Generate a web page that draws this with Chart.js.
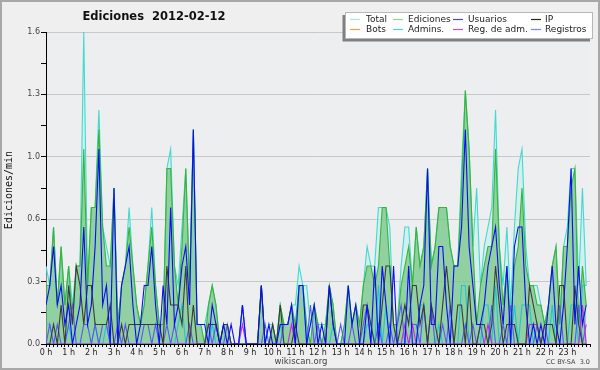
<!DOCTYPE html>
<html>
<head>
<meta charset="utf-8">
<script src="https://cdn.jsdelivr.net/npm/chart.js@4/dist/chart.umd.min.js"></script>
<style>
  html, body { margin: 0; padding: 0; background: #efefef; }
</style>
</head>
<body>
<canvas id="grafico" width="600" height="370"></canvas>
<script>
// Etiquetas del eje X (una por hora, datos cada 10 minutos)
const horas = ['0 h','1 h','2 h','3 h','4 h','5 h','6 h','7 h','8 h','9 h','10 h','11 h',
               '12 h','13 h','14 h','15 h','16 h','17 h','18 h','19 h','20 h','21 h','22 h','23 h'];

// Eje Y: marcas cada 0.16, etiqueta solo en las principales
const yValores = [0, 0.16, 0.32, 0.48, 0.64, 0.8, 0.96, 1.12, 1.28, 1.44, 1.6];
const yEtiquetas = ['0.0', '', '0.3', '', '0.6', '', '1.0', '', '1.3', '', '1.6'];

const nombres = ['Total', 'Ediciones', 'Usuarios', 'IP', 'Bots', 'Admins.', 'Reg. de adm.', 'Registros'];

// Ediciones/min por tramo de 10 minutos (6 valores por hora)
const total = [
  0.4,0.3,0.6,0.2,0.5,0.2,  0.4,0.2,0.4,0.4,1.6,0.3,  0.7,0.7,1.2,0.6,0.5,0.4,  0.8,0.1,0.3,0.4,0.7,0.4,
  0.2,0.1,0.2,0.4,0.7,0.3,  0.1,0.1,0.9,1.0,0.4,0.3,  0.6,0.9,0.3,1.1,0.1,0.1,  0.1,0.2,0.3,0.2,0.0,0.1,
  0.1,0.0,0.0,0.0,0.2,0.0,  0.0,0.0,0.0,0.3,0.0,0.1,  0.1,0.0,0.2,0.1,0.1,0.2,  0.2,0.4,0.3,0.3,0.1,0.2,
  0.1,0.1,0.1,0.3,0.2,0.0,  0.0,0.1,0.3,0.1,0.2,0.1,  0.3,0.5,0.4,0.4,0.7,0.7,  0.7,0.6,0.1,0.1,0.4,0.6,
  0.6,0.3,0.6,0.4,0.5,0.9,  0.4,0.5,0.7,0.7,0.7,0.5,  0.4,0.4,0.9,1.3,1.0,0.5,  0.8,0.3,0.5,0.6,0.7,1.2,
  0.5,0.3,0.6,0.2,0.6,0.9,  1.0,0.5,0.3,0.3,0.3,0.2,  0.1,0.2,0.4,0.5,0.1,0.5,  0.6,0.9,0.9,0.3,0.8,0.3
];
const ediciones = [
  0.3,0.3,0.6,0.2,0.5,0.2,  0.4,0.1,0.4,0.4,1.0,0.3,  0.7,0.7,1.1,0.6,0.4,0.4,  0.8,0.1,0.3,0.4,0.6,0.4,
  0.2,0.1,0.2,0.4,0.6,0.3,  0.1,0.1,0.9,0.9,0.4,0.2,  0.5,0.9,0.3,1.1,0.1,0.1,  0.0,0.2,0.3,0.2,0.0,0.1,
  0.1,0.0,0.0,0.0,0.0,0.0,  0.0,0.0,0.0,0.3,0.0,0.0,  0.1,0.0,0.2,0.1,0.1,0.2,  0.1,0.3,0.3,0.1,0.0,0.2,
  0.1,0.0,0.1,0.3,0.2,0.0,  0.0,0.1,0.3,0.1,0.2,0.1,  0.3,0.4,0.4,0.3,0.4,0.7,  0.7,0.4,0.1,0.1,0.3,0.4,
  0.5,0.3,0.6,0.4,0.5,0.9,  0.4,0.5,0.7,0.7,0.7,0.5,  0.4,0.4,0.8,1.3,1.0,0.5,  0.1,0.3,0.4,0.5,0.5,1.0,
  0.5,0.2,0.4,0.1,0.4,0.5,  0.8,0.4,0.3,0.3,0.2,0.2,  0.1,0.2,0.4,0.5,0.1,0.5,  0.5,0.8,0.9,0.1,0.4,0.2
];
const usuarios = [
  0.2,0.3,0.5,0.2,0.3,0.1,  0.2,0.0,0.1,0.2,0.6,0.1,  0.2,0.5,1.0,0.2,0.3,0.0,  0.8,0.0,0.3,0.4,0.5,0.2,
  0.0,0.1,0.3,0.3,0.5,0.2,  0.0,0.3,0.1,0.7,0.1,0.2,  0.4,0.5,0.2,1.1,0.1,0.1,  0.1,0.0,0.2,0.1,0.0,0.1,
  0.0,0.1,0.0,0.0,0.2,0.0,  0.0,0.0,0.0,0.3,0.0,0.1,  0.0,0.0,0.1,0.1,0.1,0.2,  0.0,0.3,0.3,0.0,0.1,0.2,
  0.0,0.1,0.0,0.3,0.1,0.0,  0.0,0.0,0.3,0.1,0.2,0.0,  0.0,0.2,0.0,0.4,0.0,0.4,  0.2,0.0,0.4,0.0,0.0,0.0,
  0.4,0.0,0.0,0.2,0.3,0.9,  0.1,0.1,0.5,0.5,0.2,0.0,  0.4,0.4,0.6,1.1,0.5,0.3,  0.1,0.1,0.2,0.4,0.5,0.6,
  0.3,0.1,0.4,0.0,0.5,0.6,  0.6,0.2,0.0,0.1,0.0,0.1,  0.0,0.2,0.4,0.1,0.0,0.2,  0.5,0.9,0.1,0.4,0.1,0.2
];
const ip = [
  0.0,0.0,0.1,0.0,0.2,0.0,  0.3,0.1,0.4,0.3,0.1,0.3,  0.3,0.1,0.1,0.1,0.1,0.2,  0.0,0.0,0.1,0.0,0.1,0.1,
  0.1,0.1,0.1,0.1,0.1,0.1,  0.1,0.0,0.4,0.2,0.2,0.2,  0.1,0.4,0.0,0.2,0.0,0.0,  0.0,0.1,0.1,0.1,0.0,0.1,
  0.1,0.0,0.0,0.0,0.0,0.0,  0.0,0.0,0.0,0.3,0.0,0.0,  0.1,0.0,0.2,0.0,0.0,0.0,  0.1,0.0,0.0,0.0,0.0,0.0,
  0.0,0.0,0.0,0.3,0.1,0.0,  0.0,0.0,0.0,0.0,0.0,0.0,  0.2,0.2,0.1,0.0,0.0,0.2,  0.4,0.4,0.1,0.0,0.1,0.2,
  0.1,0.3,0.3,0.1,0.2,0.0,  0.2,0.1,0.0,0.2,0.4,0.2,  0.0,0.2,0.2,0.0,0.3,0.0,  0.0,0.1,0.1,0.0,0.1,0.4,
  0.2,0.0,0.1,0.1,0.1,0.0,  0.0,0.0,0.3,0.2,0.1,0.0,  0.1,0.1,0.1,0.0,0.3,0.3,  0.0,0.0,0.3,0.1,0.0,0.0
];
const bots = [
  0,0,0,0,0,0,  0,0,0,0,0,0,  0,0,0,0,0,0,  0,0,0,0,0,0,
  0,0,0,0,0,0,  0,0,0,0,0,0,  0,0,0,0,0,0,  0,0,0,0,0,0,
  0,0,0,0,0,0,  0,0,0,0,0,0,  0,0,0,0,0,0,  0,0,0,0,0,0,
  0,0,0,0,0,0,  0,0,0,0,0,0,  0,0,0,0,0,0,  0,0,0,0,0,0,
  0,0,0,0,0,0,  0,0,0,0,0,0,  0,0,0,0,0,0,  0,0,0,0,0,0,
  0,0,0,0,0,0,  0,0,0,0,0,0,  0,0,0,0,0,0,  0,0,0,0,0,0
];
const admins = [
  0.1,0.1,0,0,0,0,  0.1,0,0,0,0,0,  0,0.1,0,0,0.1,0,  0,0,0,0,0,0,
  0,0,0,0,0,0,  0,0,0,0,0,0.1,  0.2,0,0,0,0,0,  0,0,0.1,0,0,0,
  0,0,0,0,0,0,  0,0,0,0,0,0,  0,0,0.1,0,0,0,  0,0.3,0.3,0,0,0,
  0,0,0,0,0.1,0,  0,0,0,0,0,0,  0,0.1,0.1,0,0.3,0,  0.2,0,0,0,0,0,
  0,0,0,0.2,0.2,0,  0,0,0.1,0,0,0,  0,0,0.3,0.3,0,0,  0,0,0.2,0.2,0,0.3,
  0,0,0,0,0.2,0,  0.2,0.2,0.2,0,0,0,  0,0,0.2,0,0,0,  0,0.2,0.2,0,0.3,0.3
];
const regAdm = [
  0,0,0,0,0,0,  0,0,0,0,0,0,  0,0,0,0,0,0,  0,0,0,0,0,0,
  0,0,0,0,0,0,  0,0,0,0,0,0,  0,0,0,0,0,0,  0,0,0,0,0,0,
  0,0,0,0,0.1,0,  0,0,0,0,0,0,  0,0,0,0,0,0.1,  0,0,0,0,0,0,
  0,0,0,0,0,0,  0,0,0,0,0,0,  0,0,0,0,0,0,  0,0,0,0,0,0.1,
  0,0.1,0,0,0,0,  0,0,0,0,0,0,  0,0,0,0,0,0,  0,0,0,0.1,0,0,
  0,0,0,0,0,0,  0,0,0.1,0.1,0.1,0,  0,0,0,0,0,0,  0,0,0,0,0.2,0
];
const registros = [
  0,0.1,0,0.1,0,0,  0.1,0.2,0,0,0.1,0.1,  0,0.1,0,0.1,0.1,0,  0,0.1,0,0.1,0,0,
  0,0,0.1,0.1,0,0.1,  0,0,0.1,0,0.1,0,  0,0,0.1,0,0,0,  0,0.1,0,0.1,0,0,
  0.1,0,0,0,0.2,0,  0,0,0,0,0.1,0,  0,0,0,0.1,0.1,0.2,  0,0,0,0,0.2,0,
  0.1,0,0,0,0,0,  0.1,0,0,0.1,0,0,  0.1,0.2,0,0,0.1,0,  0,0.1,0,0.1,0.2,0,
  0,0.1,0.1,0,0.2,0,  0.2,0,0,0.1,0,0.2,  0,0,0,0.1,0,0.1,  0,0.1,0,0,0.2,0,
  0,0.1,0,0.2,0,0,  0,0,0,0,0.1,0,  0.1,0,0,0,0.2,0,  0,0,0,0.2,0,0.1
];

// Colores de la leyenda
const coloresLeyenda = ['#a8e6de', '#8fd68f', '#4646dc', '#2a2a2a', '#f0a040', '#48d2e0', '#d048e0', '#8080f0'];

// Marcas del eje X cada 10 minutos
const marcasX = Array.from({ length: 145 }, (_, i) => i);

const puntos = arr => arr.map((v, i) => ({ x: i, y: v }));

const fondo = {
  id: 'fondo',
  beforeDraw(chart) {
    const { ctx, chartArea: a } = chart;
    ctx.save();
    ctx.fillStyle = '#efefef';
    ctx.fillRect(0, 0, chart.width, chart.height);
    ctx.fillStyle = '#eceef0';
    ctx.fillRect(a.left, a.top, a.right - a.left, a.bottom - a.top);
    ctx.restore();
  },
  afterDraw(chart) {
    const { ctx } = chart;
    ctx.save();
    // título
    ctx.fillStyle = '#111';
    ctx.font = 'bold 11.5px "DejaVu Sans"';
    ctx.textAlign = 'center';
    ctx.textBaseline = 'middle';
    ctx.fillText('Ediciones  2012-02-12', 154, 17);

    // título eje Y
    ctx.save();
    ctx.translate(9, 190);
    ctx.rotate(-Math.PI / 2);
    ctx.font = '10px "DejaVu Sans Mono"';
    ctx.fillStyle = '#111';
    ctx.fillText('Ediciones/min', 0, 0);
    ctx.restore();

    // pie
    ctx.font = '8.5px "DejaVu Sans"';
    ctx.fillStyle = '#444';
    ctx.fillText('wikiscan.org', 301, 362);
    ctx.font = '6.5px "DejaVu Sans"';
    ctx.textAlign = 'right';
    ctx.fillText('CC BY-SA  3.0', 590, 362);

    // leyenda con sombra
    ctx.fillStyle = '#808080';
    ctx.fillRect(342.5, 15, 247.5, 26.5);
    ctx.fillStyle = '#ffffff';
    ctx.fillRect(345.5, 12, 247.5, 26.5);
    ctx.strokeStyle = '#b8b8b8';
    ctx.lineWidth = 1;
    ctx.strokeRect(345.5, 12.5, 247, 26);
    const muestraX = [350, 393, 453, 531];
    const textoX = [366, 408, 468, 545];
    const filaY = [19.5, 29.5];
    ctx.textAlign = 'left';
    ctx.font = '9px "DejaVu Sans"';
    nombres.forEach((n, k) => {
      const col = k % 4, fila = Math.floor(k / 4);
      ctx.strokeStyle = coloresLeyenda[k];
      ctx.lineWidth = 1.2;
      ctx.beginPath();
      ctx.moveTo(muestraX[col], filaY[fila]);
      ctx.lineTo(muestraX[col] + 10, filaY[fila]);
      ctx.stroke();
      ctx.fillStyle = '#222';
      ctx.fillText(n, textoX[col], filaY[fila]);
    });

    // marco de la imagen
    ctx.strokeStyle = '#a8a8a8';
    ctx.lineWidth = 2;
    ctx.strokeRect(1, 1, chart.width - 2, chart.height - 2);
    ctx.restore();
  }
};

new Chart(document.getElementById('grafico').getContext('2d'), {
  type: 'line',
  data: {
    datasets: [
      { label: nombres[0], data: puntos(total), borderColor: '#40dad0', backgroundColor: 'rgba(196,240,236,0.6)', fill: 'origin', order: 10 },
      { label: nombres[1], data: puntos(ediciones), borderColor: '#38b438', backgroundColor: 'rgba(64,170,64,0.45)', fill: 'origin', order: 9 },
      { label: nombres[4], data: puntos(bots), borderColor: '#f0a040', fill: false, order: 8 },
      { label: nombres[5], data: puntos(admins), borderColor: '#22c4d4', fill: false, order: 7 },
      { label: nombres[7], data: puntos(registros), borderColor: '#5858f6', fill: false, order: 6 },
      { label: nombres[6], data: puntos(regAdm), borderColor: '#c428e0', fill: false, order: 5 },
      { label: nombres[3], data: puntos(ip), borderColor: '#3a3a3a', fill: false, order: 4 },
      { label: nombres[2], data: puntos(usuarios), borderColor: '#0c0cf4', fill: false, order: 3 }
    ]
  },
  options: {
    responsive: false,
    animation: false,
    layout: { padding: { top: 32, right: 10, left: 0, bottom: 0 } },
    plugins: { legend: { display: false }, tooltip: { enabled: false } },
    elements: { point: { radius: 0 }, line: { tension: 0, borderWidth: 1.1 } },
    scales: {
      x: {
        type: 'linear', min: 0, max: 144, z: 1,
        afterBuildTicks: s => { s.ticks = marcasX.map(v => ({ value: v })); },
        afterFit: s => { s.height = 26; },
        grid: { drawOnChartArea: false, tickLength: 3, tickColor: '#000' },
        border: { color: '#000', width: 1 },
        ticks: {
          autoSkip: false, maxRotation: 0, padding: 1, color: '#222',
          font: { family: 'DejaVu Sans', size: 8 },
          callback: v => (v % 6 === 0 && v < 144) ? horas[v / 6] : ''
        }
      },
      y: {
        min: 0, max: 1.6,
        afterBuildTicks: s => { s.ticks = yValores.map(v => ({ value: v })); },
        afterFit: s => { s.width = 46; },
        grid: {
          color: ctx => yEtiquetas[ctx.index] ? '#c8c8c8' : 'rgba(0,0,0,0)',
          tickColor: '#000', tickLength: 5
        },
        border: { color: '#000', width: 1 },
        ticks: {
          padding: 1, color: '#444',
          font: { family: 'DejaVu Sans', size: 8 },
          callback: (v, i) => yEtiquetas[i]
        }
      }
    }
  },
  plugins: [fondo]
});
</script>
</body>
</html>
